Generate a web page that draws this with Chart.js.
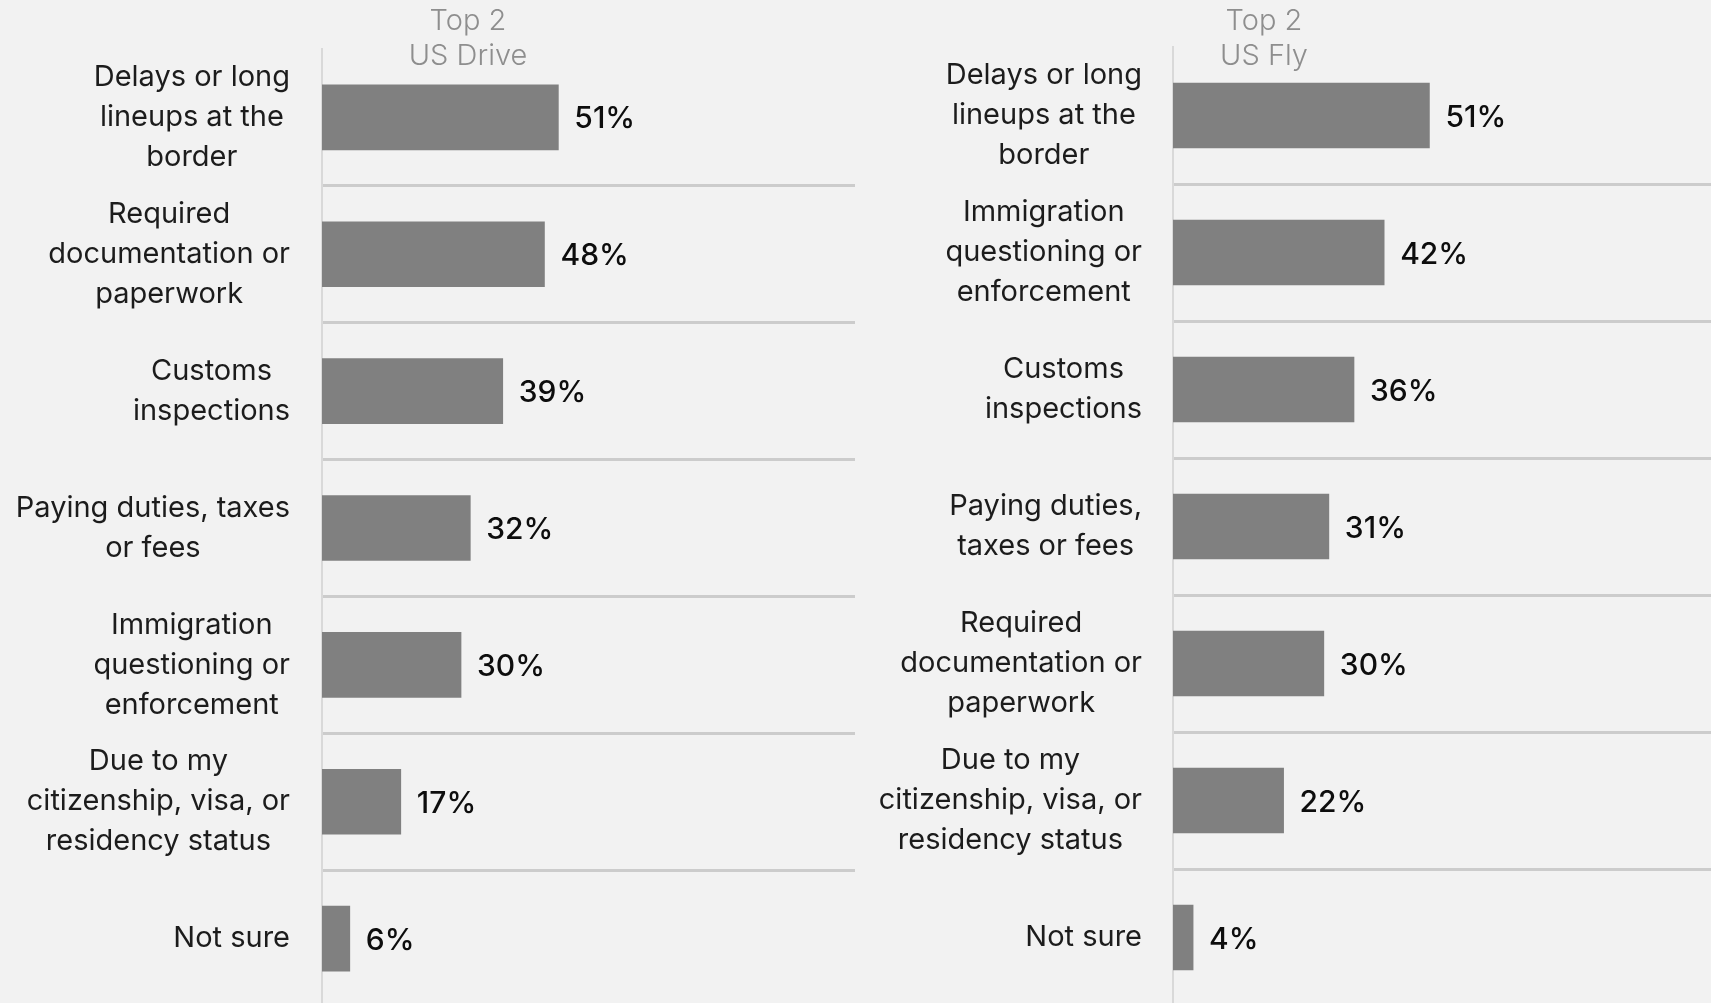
<!DOCTYPE html>
<html><head><meta charset="utf-8">
<script src="https://cdn.jsdelivr.net/npm/chart.js@4.4.1/dist/chart.umd.min.js"></script>
<style>
html,body{margin:0;padding:0;background:#f2f2f2;overflow:hidden;width:1711px;height:1003px;}
#wrap{position:relative;width:1711px;height:1003px;overflow:hidden;}
.box{position:absolute;top:0;}
#left{left:0;width:855px;height:1007px;}
#right{left:860px;width:851px;height:1006px;}
</style></head><body>
<div id="wrap"><div class="box" id="left"><canvas id="c1"></canvas></div><div class="box" id="right"><canvas id="c2"></canvas></div></div>
<script>
const driveTitle = ["Top 2", "US Drive"];
const driveCategories = [
  ["Delays or long", "lineups at the", "border"],
  ["Required", "documentation or", "paperwork"],
  ["Customs", "inspections"],
  ["Paying duties, taxes", "or fees"],
  ["Immigration", "questioning or", "enforcement"],
  ["Due to my", "citizenship, visa, or", "residency status"],
  ["Not sure"]
];
const driveValues = [51, 48, 39, 32, 30, 17, 6];

const flyTitle = ["Top 2", "US Fly"];
const flyCategories = [
  ["Delays or long", "lineups at the", "border"],
  ["Immigration", "questioning or", "enforcement"],
  ["Customs", "inspections"],
  ["Paying duties,", "taxes or fees"],
  ["Required", "documentation or", "paperwork"],
  ["Due to my", "citizenship, visa, or", "residency status"],
  ["Not sure"]
];
const flyValues = [51, 42, 36, 31, 30, 22, 4];

const FONT = 'Inter, "Noto Sans", sans-serif';

function makeChart(canvasId, cats, vals, title, o) {
  const textPlugin = {
    id: 'texts',
    afterDatasetsDraw(chart) {
      const ctx = chart.ctx;
      const meta = chart.getDatasetMeta(0);
      ctx.save();
      ctx.font = '500 30px ' + FONT;
      ctx.fillStyle = '#0d0d0d';
      ctx.textAlign = 'left';
      ctx.textBaseline = 'middle';
      meta.data.forEach((bar, i) => {
        ctx.fillText(vals[i] + '%', bar.x + 16, bar.y + 2);
      });
      ctx.restore();
    },
    afterDraw(chart) {
      const ctx = chart.ctx;
      const ys = chart.scales.y;
      const area = chart.chartArea;
      ctx.save();
      ctx.font = '400 29px ' + FONT;
      ctx.fillStyle = '#1c1c1c';
      ctx.textAlign = 'center';
      ctx.textBaseline = 'middle';
      cats.forEach((lines, i) => {
        const yc = ys.getPixelForValue(i);
        const w = Math.max(...lines.map(l => ctx.measureText(l).width));
        const xc = area.left - o.labelGap - w / 2;
        lines.forEach((l, j) => {
          ctx.fillText(l, xc, yc + (j - (lines.length - 1) / 2) * 40);
        });
      });
      ctx.font = '300 29px ' + FONT;
      ctx.fillStyle = '#8e8e8e';
      title.forEach((t, j) => {
        ctx.fillText(t, area.left + o.titleOffset, 21 + j * 35);
      });
      ctx.restore();
    }
  };

  return new Chart(document.getElementById(canvasId), {
    type: 'bar',
    data: {
      labels: cats,
      datasets: [{
        data: vals,
        backgroundColor: '#808080',
        borderWidth: 0,
        barThickness: 65
      }]
    },
    options: {
      indexAxis: 'y',
      responsive: true,
      maintainAspectRatio: false,
      animation: false,
      layout: { padding: { top: o.top, left: 0, right: 0, bottom: 0 } },
      plugins: { legend: { display: false }, tooltip: { enabled: false }, title: { display: false } },
      scales: {
        x: { type: 'linear', min: 0, max: o.xMax, display: false },
        y: {
          type: 'category',
          offset: true,
          ticks: { display: false },
          grid: {
            offset: true,
            drawTicks: false,
            lineWidth: 3,
            color: (c) => (c.index === 0 ? 'rgba(0,0,0,0)' : '#cccccc')
          },
          border: { display: true, color: '#d9d9d9', width: 2 },
          afterFit: (s) => { s.width = o.axisWidth; }
        }
      }
    },
    plugins: [textPlugin]
  });
}

makeChart('c1', driveCategories, driveValues, driveTitle,
  { axisWidth: 322, top: 49, xMax: 115, labelGap: 32, titleOffset: 146 });
makeChart('c2', flyCategories, flyValues, flyTitle,
  { axisWidth: 313, top: 47, xMax: 107, labelGap: 31, titleOffset: 91 });
</script>
</body></html>
